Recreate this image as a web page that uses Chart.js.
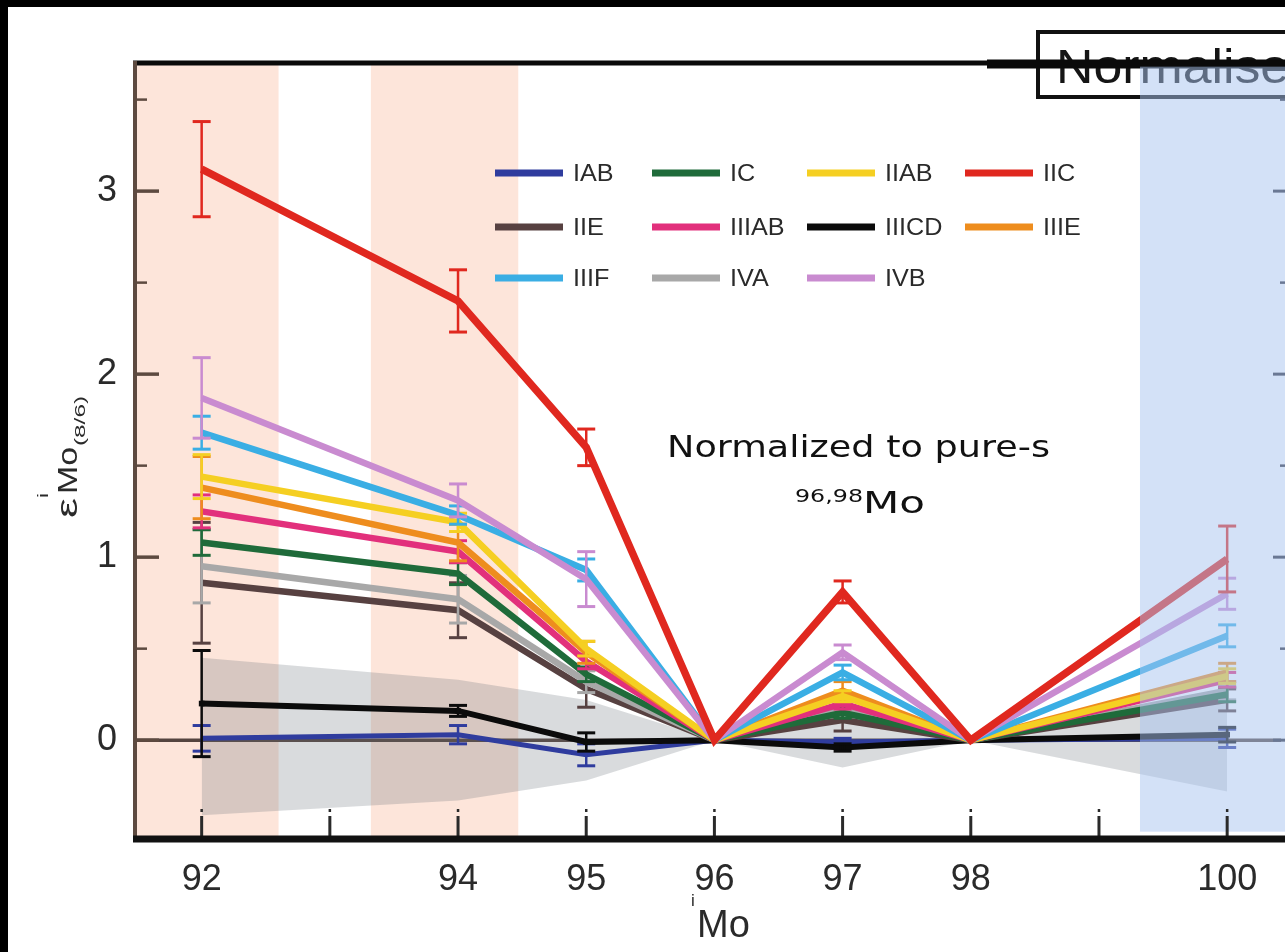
<!DOCTYPE html>
<html>
<head>
<meta charset="utf-8">
<script src="https://cdn.jsdelivr.net/npm/chart.js@4.4.0/dist/chart.umd.min.js"></script>
<style>
  html, body { margin: 0; padding: 0; background: #fff; overflow: hidden; }
  #chart { display: block; position: absolute; left: 0; top: 0; width: 1285px; height: 952px; }
</style>
</head>
<body>
<canvas id="chart" width="1285" height="952"></canvas>
<script>
// Mo isotope masses on the x axis
const isotopes = [92, 94, 95, 96, 97, 98, 100];
const tickMasses = [92, 93, 94, 95, 96, 97, 98, 99, 100];
const labelledMasses = [92, 94, 95, 96, 97, 98, 100];
const yTickValues = [0, 1, 2, 3];
const yMinorValues = [0.5, 1.5, 2.5, 3.5];

// epsilon-iMo (8/6) per iron-meteorite group, and their 2-sigma error bars
const valIIC   = [3.12, 2.40, 1.60, 0, 0.81, 0, 0.99];
const errIIC   = [0.26, 0.17, 0.10, 0, 0.06, 0, 0.18];
const valIVB   = [1.87, 1.31, 0.88, 0, 0.48, 0, 0.80];
const errIVB   = [0.22, 0.09, 0.15, 0, 0.04, 0, 0.085];
const valIIIF  = [1.68, 1.23, 0.93, 0, 0.37, 0, 0.57];
const errIIIF  = [0.09, 0.05, 0.06, 0, 0.04, 0, 0.06];
const valIIAB  = [1.44, 1.19, 0.50, 0, 0.24, 0, 0.35];
const errIIAB  = [0.12, 0.05, 0.04, 0, 0.03, 0, 0.04];
const valIIIE  = [1.38, 1.08, 0.48, 0, 0.27, 0, 0.37];
const errIIIE  = [0.17, 0.10, 0.06, 0, 0.05, 0, 0.05];
const valIIIAB = [1.25, 1.03, 0.43, 0, 0.20, 0, 0.33];
const errIIIAB = [0.09, 0.06, 0.04, 0, 0.03, 0, 0.04];
const valIC    = [1.08, 0.91, 0.36, 0, 0.15, 0, 0.25];
const errIC    = [0.07, 0.06, 0.04, 0, 0.03, 0, 0.04];
const valIVA   = [0.95, 0.77, 0.32, 0, 0.18, 0, 0.27];
const errIVA   = [0.20, 0.13, 0.06, 0, 0.03, 0, 0.05];
const valIIE   = [0.86, 0.71, 0.28, 0, 0.11, 0, 0.22];
const errIIE   = [0.33, 0.15, 0.10, 0, 0.06, 0, 0.06];
const valIIICD = [0.20, 0.16, -0.01, 0, -0.04, 0, 0.03];
const errIIICD = [0.29, 0.03, 0.05, 0, 0.02, 0, 0.04];
const valIAB   = [0.01, 0.03, -0.08, 0, -0.01, 0, 0.01];
const errIAB   = [0.07, 0.05, 0.06, 0, 0.02, 0, 0.05];

// grey envelope of the s-process mixing line
const envUpper = [0.45, 0.33, 0.22, 0, 0.15, 0, 0.28];
const envLower = [-0.41, -0.33, -0.22, 0, -0.15, 0, -0.28];

// shaded mass ranges
const peachRanges = [[91.48, 92.60], [93.32, 94.47]];
const blueRange = [99.32, 100.42];
const blueValueRange = [-0.50, 3.68];

const legendRows = [
  ['IAB', 'IC', 'IIAB', 'IIC'],
  ['IIE', 'IIIAB', 'IIICD', 'IIIE'],
  ['IIIF', 'IVA', 'IVB']
];

const colours = {
  IAB: '#2f3c9e', IC: '#1f6b3a', IIAB: '#f5cf22', IIC: '#e0281f',
  IIE: '#574141', IIIAB: '#e2307c', IIICD: '#0b0b0b', IIIE: '#ee8d1e',
  IIIF: '#3aaee4', IVA: '#a8a8a8', IVB: '#c98bd0'
};

const pts = vals => isotopes.map((m, i) => ({ x: m, y: vals[i] }));

function series(name, vals, errs, width, order) {
  return {
    label: name,
    data: pts(vals),
    errs: errs,
    vals: vals,
    borderColor: colours[name],
    backgroundColor: colours[name],
    borderWidth: width,
    pointRadius: name === 'IIICD' ? (c => (c.raw && c.raw.y !== 0 ? 4 : 0)) : 0,
    pointStyle: 'rect',
    pointBackgroundColor: colours[name],
    pointBorderWidth: 0,
    tension: 0,
    fill: false,
    order: order
  };
}

const datasets = [
  {
    label: 'envelope-upper', data: pts(envUpper), borderWidth: 0, pointRadius: 0,
    backgroundColor: 'rgba(110,115,125,0.26)', fill: '+1', order: 50
  },
  {
    label: 'envelope-lower', data: pts(envLower), borderWidth: 0, pointRadius: 0,
    fill: false, order: 51
  },
  series('IAB', valIAB, errIAB, 5, 12),
  series('IIICD', valIIICD, errIIICD, 6, 11),
  series('IIE', valIIE, errIIE, 6.5, 10),
  series('IVA', valIVA, errIVA, 6.5, 9),
  series('IC', valIC, errIC, 6.5, 8),
  series('IIIAB', valIIIAB, errIIIAB, 6.5, 7),
  series('IIIE', valIIIE, errIIIE, 6.5, 6),
  series('IIAB', valIIAB, errIIAB, 6.5, 5),
  series('IIIF', valIIIF, errIIIF, 6.5, 4),
  series('IVB', valIVB, errIVB, 6.5, 3),
  series('IIC', valIIC, errIIC, 7.5, 1)
];

const FONT = '"Liberation Sans", Arial, Helvetica, sans-serif';
const NOTE_FONT = '"DejaVu Sans", "Liberation Sans", sans-serif';

function stretchText(ctx, text, x, y, size, width, colour, family) {
  ctx.save();
  ctx.font = size + 'px ' + (family || FONT);
  ctx.fillStyle = colour;
  ctx.textAlign = 'left';
  ctx.textBaseline = 'alphabetic';
  const w = ctx.measureText(text).width;
  ctx.translate(x, y);
  ctx.scale(width / w, 1);
  ctx.fillText(text, 0, 0);
  ctx.restore();
}

function line(ctx, x1, y1, x2, y2, w, colour) {
  ctx.beginPath();
  ctx.moveTo(x1, y1);
  ctx.lineTo(x2, y2);
  ctx.lineWidth = w;
  ctx.strokeStyle = colour;
  ctx.stroke();
}

const decor = {
  id: 'decor',
  beforeDraw(chart) {
    const ctx = chart.ctx;
    ctx.save();
    ctx.fillStyle = '#fff';
    ctx.fillRect(0, 0, chart.width, chart.height);
    ctx.fillStyle = '#000';
    ctx.fillRect(0, 0, chart.width, 7);
    ctx.fillRect(0, 0, 8, chart.height);
    ctx.restore();
  },
  beforeDatasetsDraw(chart) {
    const { ctx, chartArea: a, scales: { x, y } } = chart;
    ctx.save();
    ctx.fillStyle = '#fde5da';
    peachRanges.forEach(([m0, m1]) => {
      const x0 = Math.max(x.getPixelForValue(m0), a.left);
      const x1 = x.getPixelForValue(m1);
      ctx.fillRect(x0, a.top, x1 - x0, a.bottom - a.top);
    });
    const y0 = y.getPixelForValue(0);
    line(ctx, a.left, y0, a.right, y0, 3.5, '#54443f');
    ctx.restore();
  },
  afterDatasetDraw(chart, args) {
    const ds = chart.data.datasets[args.index];
    if (!ds.errs) return;
    const { ctx, scales: { x, y } } = chart;
    ctx.save();
    ds.errs.forEach((e, i) => {
      if (!e) return;
      const px = x.getPixelForValue(isotopes[i]);
      const top = y.getPixelForValue(ds.vals[i] + e);
      const bot = y.getPixelForValue(ds.vals[i] - e);
      line(ctx, px, top, px, bot, 2.5, ds.borderColor);
      line(ctx, px - 9, top, px + 9, top, 3, ds.borderColor);
      line(ctx, px - 9, bot, px + 9, bot, 3, ds.borderColor);
    });
    ctx.restore();
  },
  afterDatasetsDraw(chart) {
    const { ctx, chartArea: a, scales: { x, y } } = chart;
    const W = chart.width;
    ctx.save();

    // boxed heading at the top right
    ctx.fillStyle = '#fff';
    ctx.fillRect(1038, 32, 270, 65);
    ctx.lineWidth = 4;
    ctx.strokeStyle = '#111';
    ctx.strokeRect(1038, 32, 270, 65);
    stretchText(ctx, 'Normalised', 1056, 83, 49, 262, '#151515');

    // top frame line
    line(ctx, a.left - 2, 63, 987, 63, 5, '#0a0a0a');
    line(ctx, 987, 64, W, 64, 9, '#0a0a0a');

    // right-hand axis ticks
    yTickValues.forEach(v => {
      const py = y.getPixelForValue(v);
      line(ctx, W - 12, py, W, py, 3, '#2c2c38');
    });
    yMinorValues.forEach(v => {
      const py = y.getPixelForValue(v);
      line(ctx, W - 5, py, W, py, 2.5, '#2c2c38');
    });

    // blue band
    const bx0 = x.getPixelForValue(blueRange[0]);
    const by0 = y.getPixelForValue(blueValueRange[1]);
    const by1 = y.getPixelForValue(blueValueRange[0]);
    ctx.fillStyle = 'rgba(168,195,240,0.5)';
    ctx.fillRect(bx0, by0, W - bx0, by1 - by0);

    // left axis and ticks
    line(ctx, a.left, 61, a.left, a.bottom, 4, '#5d4a40');
    yTickValues.forEach(v => {
      const py = y.getPixelForValue(v);
      line(ctx, a.left, py, a.left + 24, py, 3.5, '#5d4a40');
    });
    yMinorValues.forEach(v => {
      const py = y.getPixelForValue(v);
      line(ctx, a.left, py, a.left + 12, py, 2.5, '#5d4a40');
    });

    // bottom axis and ticks
    tickMasses.forEach(m => {
      const px = x.getPixelForValue(m);
      line(ctx, px, a.bottom - 23, px, a.bottom, 3, '#2a2a2a');
      line(ctx, px, a.bottom - 30, px, a.bottom - 27, 2.5, '#2a2a2a');
    });
    line(ctx, a.left - 2, a.bottom, W, a.bottom, 7, '#111');

    // legend
    const colX = [495, 652, 807, 965];
    const rowY = [173, 227, 278];
    ctx.textBaseline = 'middle';
    legendRows.forEach((row, r) => {
      row.forEach((name, c) => {
        const lx = colX[c], ly = rowY[r];
        line(ctx, lx, ly, lx + 68, ly, 7, colours[name]);
        ctx.save();
        ctx.font = '24px ' + FONT;
        ctx.fillStyle = '#2a2a2a';
        ctx.translate(lx + 78, ly + 1);
        ctx.scale(1.05, 1);
        ctx.fillText(name, 0, 0);
        ctx.restore();
      });
    });

    // normalisation note
    stretchText(ctx, 'Normalized to pure-s', 667, 457, 30, 383, '#111', NOTE_FONT);
    stretchText(ctx, '96,98', 795, 502, 18, 68, '#111', NOTE_FONT);
    stretchText(ctx, 'Mo', 863, 513, 30, 62, '#111', NOTE_FONT);

    // x-axis title
    ctx.fillStyle = '#2a2a2a';
    ctx.font = '38px ' + FONT;
    ctx.textBaseline = 'alphabetic';
    ctx.fillText('Mo', 697, 937);
    ctx.font = '17px ' + FONT;
    ctx.fillText('i', 691, 906);

    // y-axis title, rotated
    ctx.save();
    ctx.translate(77, 518);
    ctx.rotate(-Math.PI / 2);
    stretchText(ctx, 'ε', 0, 0, 30, 20, '#2a2a2a');
    stretchText(ctx, 'i', 20, -29, 14, 5, '#2a2a2a');
    stretchText(ctx, 'Mo', 24, 0, 28, 47, '#2a2a2a');
    stretchText(ctx, '(8/6)', 72, 8, 15, 50, '#2a2a2a');
    ctx.restore();

    ctx.restore();
  }
};

new Chart(document.getElementById('chart'), {
  type: 'line',
  data: { datasets },
  options: {
    responsive: false,
    animation: false,
    devicePixelRatio: 1,
    layout: { padding: { top: 63, left: 0, right: 0, bottom: 0 } },
    plugins: { legend: { display: false }, tooltip: { enabled: false } },
    scales: {
      x: {
        type: 'linear', min: 91.48, max: 100.42,
        afterBuildTicks: s => { s.ticks = labelledMasses.map(v => ({ value: v })); },
        afterFit: s => { s.height = 952 - 839; },
        grid: { display: false }, border: { display: false },
        ticks: {
          autoSkip: false, maxRotation: 0, padding: 11, color: '#2a2a2a',
          font: { family: FONT, size: 36 },
          callback: v => String(v)
        }
      },
      y: {
        type: 'linear', min: -0.54, max: 3.70,
        afterBuildTicks: s => { s.ticks = yTickValues.map(v => ({ value: v })); },
        afterFit: s => { s.width = 135; },
        grid: { display: false }, border: { display: false },
        ticks: {
          padding: 10, color: '#2a2a2a',
          font: { family: FONT, size: 36 },
          callback: v => String(v)
        }
      }
    }
  },
  plugins: [decor]
});
</script>
</body>
</html>
